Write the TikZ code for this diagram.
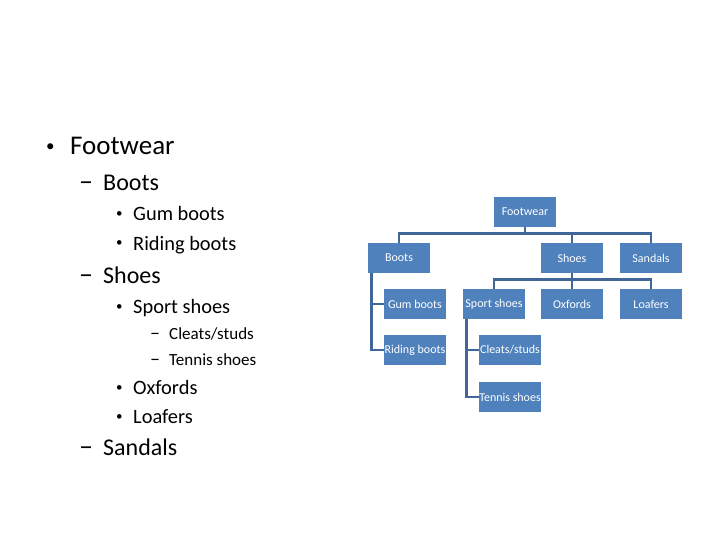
\documentclass[tikz,border=0pt]{standalone}
\usepackage{fontspec}
\setmainfont{Carlito}
\usepackage{tikz}

\definecolor{boxblue}{HTML}{4F81BD}
\definecolor{lineblue}{HTML}{41669A}

\tikzset{
  lvone/.style={anchor=base west,inner sep=0pt,font=\fontsize{27}{32}\selectfont},
  lvtwo/.style={anchor=base west,inner sep=0pt,font=\fontsize{24}{28}\selectfont},
  lvthree/.style={anchor=base west,inner sep=0pt,font=\fontsize{20.4}{24}\selectfont},
  lvfour/.style={anchor=base west,inner sep=0pt,font=\fontsize{17}{20}\selectfont},
  bigdot/.style={anchor=base west,inner sep=0pt,font=\fontsize{17}{20}\selectfont},
  smalldot/.style={anchor=base west,inner sep=0pt,font=\fontsize{13}{16}\selectfont},
  bigdash/.style={anchor=base west,inner sep=0pt,font=\fontsize{28}{32}\selectfont},
  smalldash/.style={anchor=base west,inner sep=0pt,font=\fontsize{20}{24}\selectfont},
  box/.style={fill=boxblue,text=white,minimum width=62pt,minimum height=30pt,inner sep=0pt,font=\fontsize{12}{14}\selectfont},
  conn/.style={draw=lineblue,line width=2.8pt}
}

\begin{document}
\begin{tikzpicture}[x=1pt,y=-1pt]
  \useasboundingbox (0,0) rectangle (720,540);

  % outline on the left
  \node[bigdot] (mfw) at (46,152) {•};
  \node[lvone] (tfw) at (70,155) {Footwear};
  \node[bigdash] (mboots) at (79,191) {–};
  \node[lvtwo] (tboots) at (103,191) {Boots};
  \node[smalldot] (mgum) at (116,218) {•};
  \node[lvthree] (tgum) at (133,221) {Gum boots};
  \node[smalldot] (mriding) at (116,247) {•};
  \node[lvthree] (triding) at (133,250) {Riding boots};
  \node[bigdash] (mshoes) at (79,283) {–};
  \node[lvtwo] (tshoes) at (103,283) {Shoes};
  \node[smalldot] (msport) at (116,310) {•};
  \node[lvthree] (tsport) at (133,313) {Sport shoes};
  \node[smalldash] (mcleats) at (150,339) {–};
  \node[lvfour] (tcleats) at (169,339) {Cleats/studs};
  \node[smalldash] (mtennis) at (150,365) {–};
  \node[lvfour] (ttennis) at (169,365) {Tennis shoes};
  \node[smalldot] (moxf) at (116,391) {•};
  \node[lvthree] (toxf) at (133,394) {Oxfords};
  \node[smalldot] (mloaf) at (116,420) {•};
  \node[lvthree] (tloaf) at (133,423) {Loafers};
  \node[bigdash] (msandals) at (79,455) {–};
  \node[lvtwo] (tsandals) at (103,455) {Sandals};

  % hierarchy chart
  \node[box] (fw) at (525,212) {Footwear};
  \node[box] (boots) at (399,258) {Boots};
  \node[box] (shoes) at (572,258) {Shoes};
  \node[box] (sandals) at (651,258) {Sandals};
  \node[box] (gum) at (415,304) {Gum boots};
  \node[box] (sport) at (494,304) {Sport shoes};
  \node[box] (oxf) at (572,304) {Oxfords};
  \node[box] (loaf) at (651,304) {Loafers};
  \node[box] (riding) at (415,350) {Riding boots};
  \node[box] (cleats) at (510,350) {Cleats/studs};
  \node[box] (tennis) at (510,397) {Tennis shoes};

  \draw[conn] (fw.south) -- ++(0,6) -| (boots.north);
  \draw[conn] (fw.south) -- ++(0,6) -| (shoes.north);
  \draw[conn] (fw.south) -- ++(0,6) -| (sandals.north);
  \draw[conn] (shoes.south) -- ++(0,6) -| (sport.north);
  \draw[conn] (shoes.south) -- ++(0,6) -| (oxf.north);
  \draw[conn] (shoes.south) -- ++(0,6) -| (loaf.north);
  \draw[conn] ([xshift=4pt]boots.south west) |- (gum.west);
  \draw[conn] ([xshift=4pt]boots.south west) |- (riding.west);
  \draw[conn] ([xshift=4pt]sport.south west) |- (cleats.west);
  \draw[conn] ([xshift=4pt]sport.south west) |- (tennis.west);
\end{tikzpicture}
\end{document}
